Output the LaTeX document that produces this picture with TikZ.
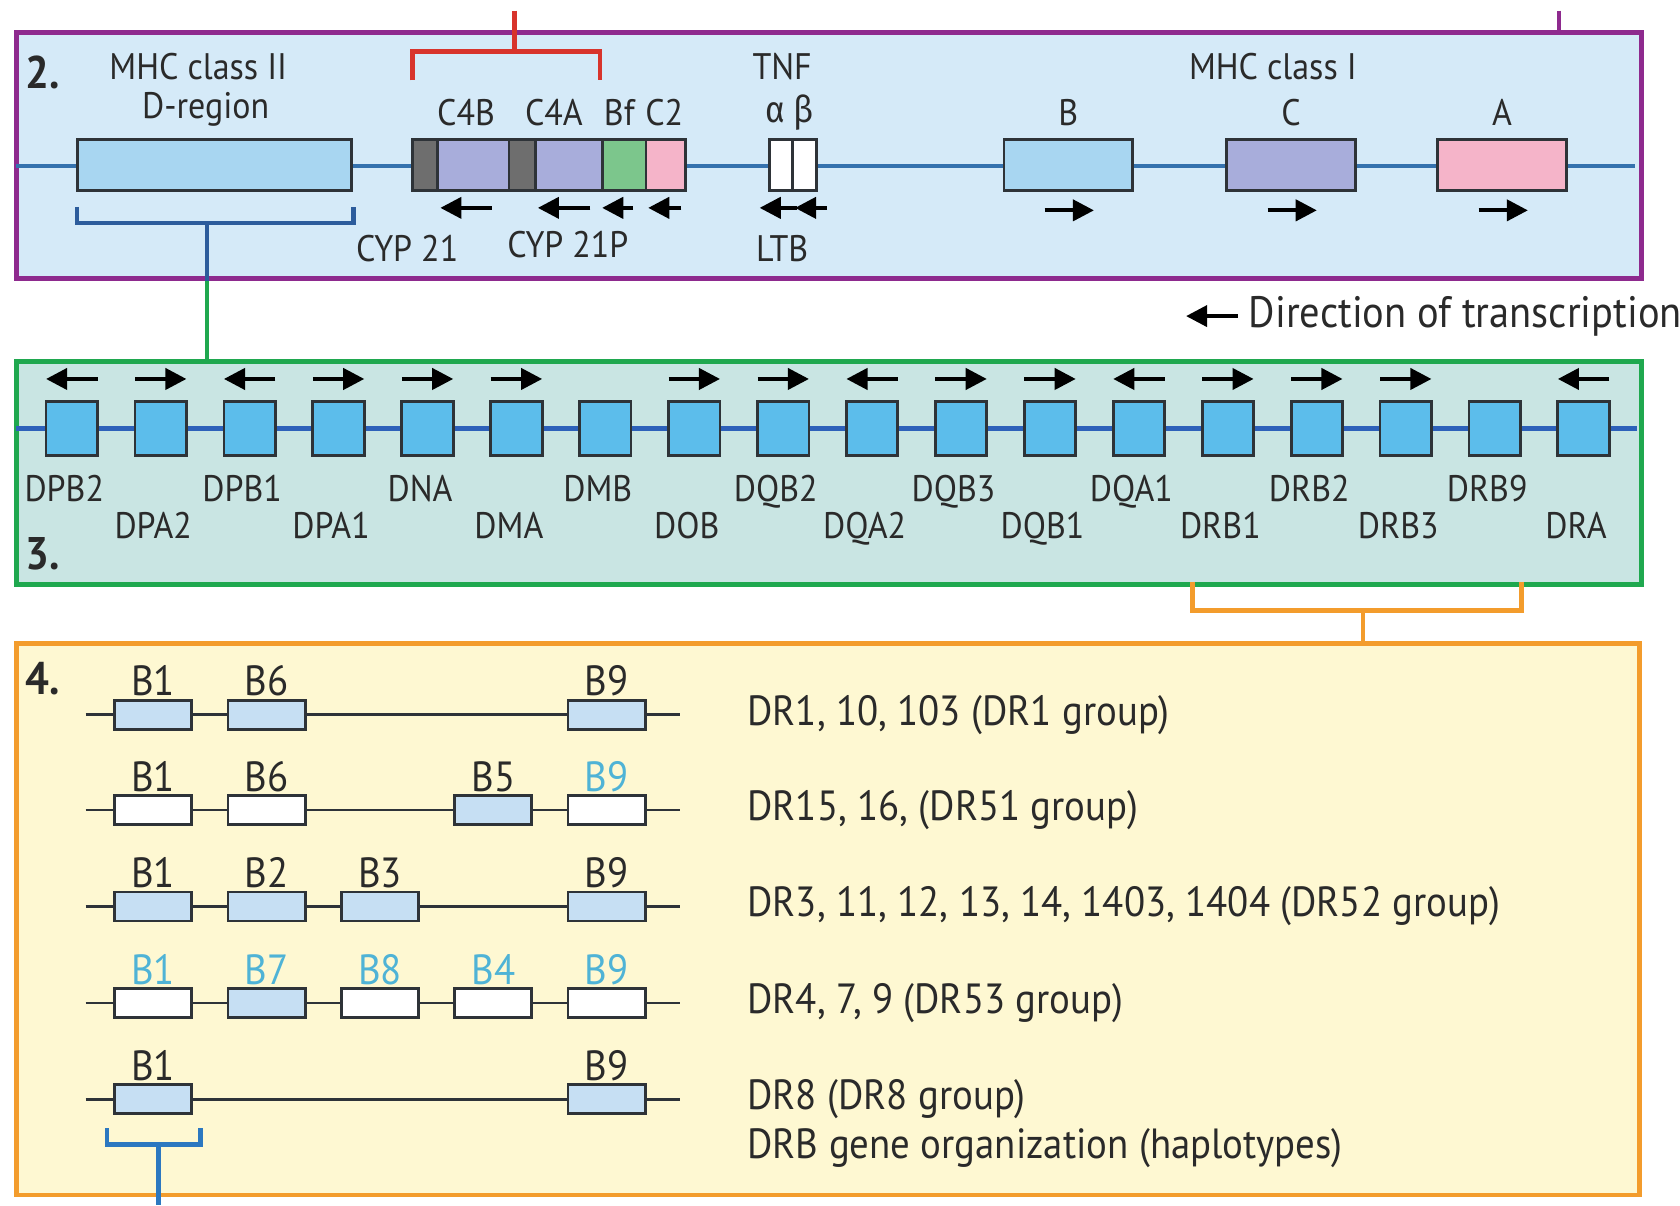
\documentclass[tikz,border=0pt]{standalone}
\usepackage{fontspec}
\setmainfont[FakeStretch=0.92]{PT Sans}
\newfontfamily\greekfont[FakeStretch=0.9]{Fira Sans}
\usetikzlibrary{positioning,calc,arrows.meta}
\definecolor{purplecol}{HTML}{8E2A8E}
\definecolor{panelbluecol}{HTML}{D5EAF8}
\definecolor{axiscol}{HTML}{3572AE}
\definecolor{dregcol}{HTML}{A8D6F1}
\definecolor{greycol}{HTML}{6E6E6E}
\definecolor{lavcol}{HTML}{A8ADDB}
\definecolor{bfcol}{HTML}{7CC68C}
\definecolor{pinkcol}{HTML}{F5B4C9}
\definecolor{greencol}{HTML}{1FA84F}
\definecolor{tealcol}{HTML}{C9E5E3}
\definecolor{genecol}{HTML}{5CBDEB}
\definecolor{orangecol}{HTML}{F39C2C}
\definecolor{yellowcol}{HTML}{FEF8D2}
\definecolor{drbcol}{HTML}{C6DFF3}
\definecolor{cyancol}{HTML}{4FB3D6}
\definecolor{redcol}{HTML}{D8342C}
\definecolor{bracketcol}{HTML}{2C5C9C}
\definecolor{bluestemcol}{HTML}{2C78C0}
\definecolor{edgecol}{HTML}{2E3338}
\definecolor{textcol}{HTML}{2A2A2A}
\newcommand{\upx}{0.010714cm}

\begin{document}
\begin{tikzpicture}[x=\upx,y=-\upx,
  panel/.style={draw,line width=1.4pt,anchor=north west,inner sep=0pt},
  seg/.style={draw=edgecol,line width=0.8pt,inner sep=0pt,minimum height=48*\upx},
  genebox/.style={draw=edgecol,line width=0.8pt,inner sep=0pt,fill=genecol,minimum width=48*\upx,minimum height=50*\upx},
  drbbox/.style={draw=edgecol,line width=0.8pt,inner sep=0pt,minimum width=72*\upx,minimum height=27*\upx},
  tarrow/.style={line width=1.1pt,-{Triangle[length=6pt,width=6pt]}},
  lbl/.style={inner sep=0pt,text=textcol,font=\fontsize{10.5}{12}\selectfont},
  glabel/.style={lbl,text height=7.5pt,text depth=0pt},
  blabel/.style={inner sep=0pt,font=\fontsize{12}{14}\selectfont},
  hapl/.style={inner sep=0pt,anchor=west,text=textcol,font=\fontsize{12}{14}\selectfont},
  num/.style={inner sep=0pt,text=textcol,font=\fontsize{13}{15}\selectfont\bfseries},
  axisline/.style={axiscol,line width=1.3pt},
  hline/.style={draw=edgecol,line width=0.7pt}]
  \useasboundingbox[fill=white] (0,0) rectangle (1568,1125);

  \node[panel,draw=purplecol,fill=panelbluecol,minimum width=1517*\upx,minimum height=230*\upx] (p2) at (13,28) {};
  \node[panel,draw=greencol,fill=tealcol,minimum width=1517*\upx,minimum height=208*\upx] (p3) at (13,335) {};
  \node[panel,draw=orangecol,fill=yellowcol,minimum width=1515*\upx,minimum height=515*\upx] (p4) at (13,598) {};

  \coordinate (a2l) at (15,155);
  \coordinate (a2r) at (1526,155);
  \draw[axisline] (a2l) -- (a2r);
  \node[num] (n2) at (40,68) {2.};
  \node[lbl] (mhc2) at (185,62) {MHC class II};
  \node[lbl] (dregtxt) at (192,102) {D-region};
  \node[seg,fill=dregcol,minimum width=256*\upx] (dreg) at (200,154) {};
  \foreach \nm/\xa/\xb/\clr in {cypa/385/408/greycol,cfourb/408/475/lavcol,cypb/475/500/greycol,cfoura/500/562/lavcol,bf/562/603/bfcol,ctwo/603/640/pinkcol,tnfa/718/740/white,tnfb/740/762/white}
    \node[seg,fill=\clr,minimum width={(\xb-\xa)*\upx}] (\nm) at ({(\xa+\xb)/2},154) {};
  \foreach \nm/\xc/\clr/\txt in {hlab/997/dregcol/B,hlac/1205/lavcol/C,hlaa/1402/pinkcol/A} {
    \node[seg,fill=\clr,minimum width=120*\upx] (\nm) at (\xc,154) {};
    \node[lbl] at (\xc,105) {\txt};
    \draw[tarrow] ($(\nm.south)+(-22,17)$) -- ++(46,0);
  }
  \node[lbl] (c4btxt) at (435,105) {C4B};
  \node[lbl] (c4atxt) at (517,105) {C4A};
  \node[lbl] (bftxt) at (578,105) {Bf};
  \node[lbl] (c2txt) at (620,105) {C2};
  \node[lbl] (tnftxt) at (730,62) {TNF};
  \node[lbl] (abtxt) at (737,105) {\greekfont α β};
  \node[lbl] (mhc1) at (1188,62) {MHC class I};
  \node[lbl] (cyptxt) at (380,232) {CYP 21};
  \node[lbl] (cypptxt) at (530,228) {CYP 21P};
  \node[lbl] (ltbtxt) at (730,232) {LTB};
  \foreach \xa/\xb in {459/411,551/502,591/562,636/605,744/709,772/742}
    \draw[tarrow] (\xa,194) -- (\xb,194);

  \coordinate (rbl) at (385,75);
  \coordinate (rbr) at (560,75);
  \coordinate (rtop) at (480,10);
  \draw[redcol,line width=1.3pt] (rbl) -- ++(0,-27) -| (rbr);
  \draw[redcol,line width=1.3pt] (rtop) -- (rtop |- 0,48);
  \coordinate (ptop) at (1455,10);
  \draw[purplecol,line width=1.4pt] (ptop) -- (ptop |- p2.north);

  \coordinate (dbl) at (72,193);
  \coordinate (dbr) at (330,193);
  \coordinate (dstem) at (193,208);
  \draw[bracketcol,line width=1.3pt] (dbl) -- ++(0,15) -| (dbr);
  \draw[bracketcol,line width=1.3pt] (dstem) -- (dstem |- p2.south);
  \draw[greencol,line width=1.3pt] (dstem |- p2.south) -- (dstem |- p3.north);

  \node[inner sep=0pt,anchor=west,text=textcol,font=\fontsize{12.5}{14}\selectfont] (dirtxt) at (1165,295) {Direction of transcription};
  \draw[tarrow] ($(dirtxt.west)+(-10,0)$) -- ++(-48,0);

  \coordinate (a3l) at (15,400);
  \coordinate (a3r) at (1528,400);
  \draw[axisline,color=axiscol!85!blue] (a3l) -- (a3r);
  \def\genes{DPB2/-1/456,DPA2/1/490,DPB1/-1/456,DPA1/1/490,DNA/1/456,DMA/1/490,DMB/0/456,DOB/1/490,DQB2/1/456,DQA2/-1/490,DQB3/1/456,DQB1/1/490,DQA1/-1/456,DRB1/1/490,DRB2/1/456,DRB3/1/490,DRB9/0/456,DRA/-1/490}
  \foreach [count=\gi] \gname/\dir/\ly in \genes {
    \pgfmathsetmacro{\gx}{67+(\gi-1)*83}
    \node[genebox] (g\gi) at (\gx,400) {};
    \node[glabel] (gl\gi) at ({\gx-7},\ly) {\gname};
    \ifnum\dir=0\relax\else
      \draw[tarrow] ($(g\gi.north)+({-24*(\dir)},-20)$) -- ++({48*(\dir)},0);
    \fi
  }
  \node[num] (n3) at (40,517) {3.};

  \coordinate (obl) at (1113,543);
  \coordinate (obr) at (1420,543);
  \coordinate (ostem) at (1272,570);
  \draw[orangecol,line width=1.3pt] (obl) -- ++(0,27) -| (obr);
  \draw[orangecol,line width=1.3pt] (ostem) -- (ostem |- p4.north);

  \node[num] (n4) at (40,633) {4.};
  \def\haplos{%
    667/{1/B1/drbcol/textcol,2/B6/drbcol/textcol,5/B9/drbcol/textcol}/{DR1, 10, 103 (DR1 group)},%
    756/{1/B1/white/textcol,2/B6/white/textcol,4/B5/drbcol/textcol,5/B9/white/cyancol}/{DR15, 16, (DR51 group)},%
    846/{1/B1/drbcol/textcol,2/B2/drbcol/textcol,3/B3/drbcol/textcol,5/B9/drbcol/textcol}/{DR3, 11, 12, 13, 14, 1403, 1404 (DR52 group)},%
    936/{1/B1/white/cyancol,2/B7/drbcol/cyancol,3/B8/white/cyancol,4/B4/white/cyancol,5/B9/white/cyancol}/{DR4, 7, 9 (DR53 group)},%
    1026/{1/B1/drbcol/textcol,5/B9/drbcol/textcol}/{DR8 (DR8 group)}%
  }
  \foreach [count=\ri] \ry/\bxs/\htxt in \haplos {
    \coordinate (hl\ri) at (80,\ry);
    \coordinate (hr\ri) at (635,\ry);
    \draw[hline] (hl\ri) -- (hr\ri);
    \foreach \ci/\bl/\bfil/\btc in \bxs {
      \pgfmathsetmacro{\bx}{37.2+105.8*\ci}
      \node[drbbox,fill=\bfil] (b\ri\ci) at (\bx,\ry) {};
      \node[blabel,text=\btc,above=0.5pt of b\ri\ci] {\bl};
    }
    \node[hapl] (t\ri) at (697,\ry) {\htxt};
  }
  \node[hapl] (orgtxt) at (697,1072) {DRB gene organization (haplotypes)};

  \coordinate (bbl) at (100,1053);
  \coordinate (bbr) at (187,1053);
  \coordinate (bstem) at (148,1068);
  \draw[bluestemcol,line width=1.3pt] (bbl) -- ++(0,15) -| (bbr);
  \draw[bluestemcol,line width=1.3pt] (bstem) -- (148,1125);
\end{tikzpicture}
\end{document}
